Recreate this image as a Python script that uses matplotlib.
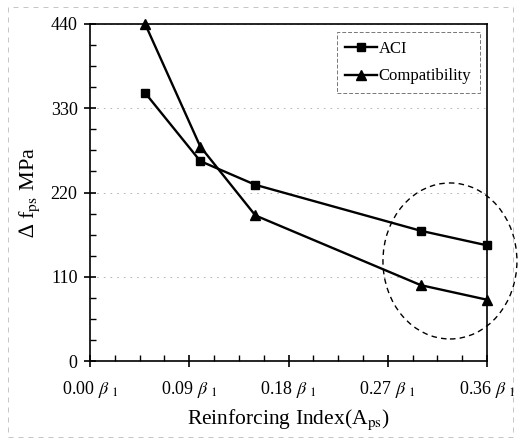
import matplotlib
matplotlib.use('Agg')
import matplotlib.pyplot as plt
from matplotlib.patches import Ellipse, Rectangle
from matplotlib.ticker import MultipleLocator

plt.rcParams['font.family'] = ['Liberation Serif', 'DejaVu Serif']
plt.rcParams['mathtext.fontset'] = 'stix'

# data
x_vals = [0.05, 0.10, 0.15, 0.30, 0.36]
aci = [350, 261, 230, 170, 151]
compat = [440, 280, 190, 99, 80]
x_ticks = [0.00, 0.09, 0.18, 0.27, 0.36]
x_labels = [r'%.2f $\beta\ _{1}$' % v for v in x_ticks]
y_ticks = [0, 110, 220, 330, 440]

fig = plt.figure(figsize=(5.19, 4.47), dpi=100)
ax = fig.add_axes([90 / 519, 86 / 447, 397 / 519, 337 / 447])

ax.plot(x_vals, aci, color='black', lw=1.7, marker='s', ms=6, label='ACI', clip_on=False, zorder=3)
ax.plot(x_vals, compat, color='black', lw=1.7, marker='^', ms=6.5, label='Compatibility', clip_on=False, zorder=3)

# dashed circle around the right-hand points
ell = Ellipse((0.3264, 130.6), 0.1215, 203.7, fill=False, ls=(0, (4, 3)), lw=1.0,
              edgecolor='black', clip_on=False)
ax.add_patch(ell)

ax.set_xlim(0, 0.36)
ax.set_ylim(0, 440)
ax.set_xticks(x_ticks)
ax.set_xticklabels(x_labels, fontsize=13)
ax.set_yticks(y_ticks)
ax.set_yticklabels([str(v) for v in y_ticks], fontsize=13)
ax.xaxis.set_minor_locator(MultipleLocator(0.0225))
ax.yaxis.set_minor_locator(MultipleLocator(27.5))
ax.tick_params(which='major', direction='inout', length=8, width=1.2, pad=5)
ax.tick_params(which='minor', direction='in', length=4, width=1.0)
ax.tick_params(axis='x', which='major', pad=9)

for s in ax.spines.values():
    s.set_linewidth(1.2)

ax.yaxis.grid(True, ls=(0, (2, 6)), color='#aaaaaa', lw=0.6)

ax.set_xlabel(r'Reinforcing Index(A$_{\rm ps}$)', fontsize=15.5, labelpad=5)
ax.set_ylabel(r'∆ f$_{\rm ps}$ MPa', fontsize=16, labelpad=6)

leg = ax.legend(loc='upper right', fontsize=12, frameon=True, fancybox=False,
                handlelength=1.9, borderpad=0.5, labelspacing=0.7,
                bbox_to_anchor=(0.99, 0.985), handletextpad=0.1, borderaxespad=0.2)
leg.get_frame().set_edgecolor('#555555')
leg.get_frame().set_linestyle((0, (4, 2)))
leg.get_frame().set_linewidth(0.7)

# faint scanned page border
fig.patches.append(Rectangle((8 / 519, 10 / 447), 505 / 519, 430 / 447, transform=fig.transFigure,
                             fill=False, ls=(0, (6, 6)), lw=0.6, edgecolor='#bbbbbb'))

fig.savefig('out.png', dpi=100)
